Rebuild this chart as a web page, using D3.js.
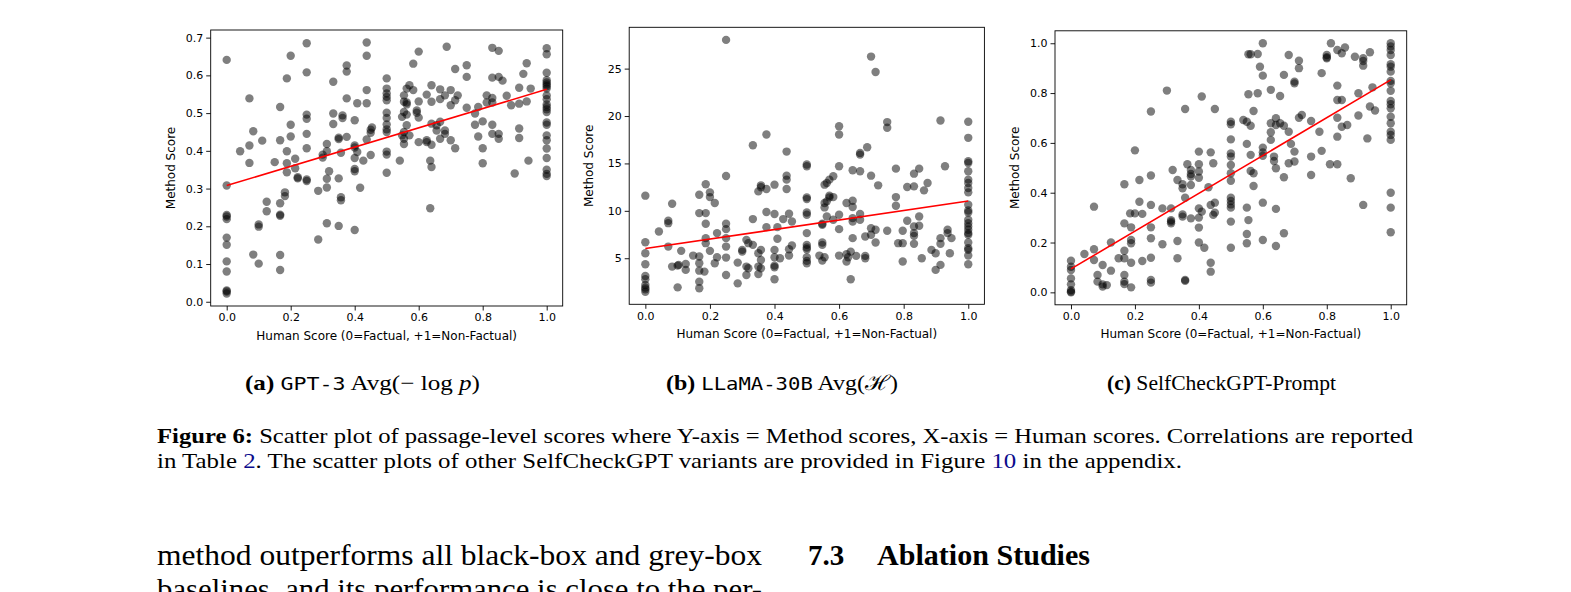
<!DOCTYPE html>
<html>
<head>
<meta charset="utf-8">
<script src="https://cdn.jsdelivr.net/npm/d3@7"></script>
<style>
  body { margin: 0; background: #fff; }
  svg { display: block; }
</style>
</head>
<body>
<svg id="page"></svg>
<script>
// ---- data ----
const xTicks = [0, 0.2, 0.4, 0.6, 0.8, 1.0];
const gpt3Ticks = [0, 0.1, 0.2, 0.3, 0.4, 0.5, 0.6, 0.7];
const llamaTicks = [5, 10, 15, 20, 25];
const promptTicks = [0, 0.2, 0.4, 0.6, 0.8, 1.0];

// fitted line: value at human score 0 and at 1
const gpt3Fit = [0.308, 0.563];
const llamaFit = [6.02, 11.03];
const promptFit = [0.094, 0.853];

const gpt3Points = [
  [0,0.641],[0,0.308],[0,0.230],[0,0.226],[0,0.219],[0,0.170],[0,0.151],[0,0.107],[0,0.080],[0,0.030],[0,0.027],[0,0.022],
  [0.042,0.399],
  [0.071,0.539],[0.071,0.414],[0.071,0.368],
  [0.083,0.452],[0.083,0.125],
  [0.1,0.205],[0.1,0.199],[0.1,0.101],
  [0.111,0.427],
  [0.125,0.265],[0.125,0.240],
  [0.15,0.370],
  [0.167,0.516],[0.167,0.428],[0.167,0.261],[0.167,0.231],[0.167,0.228],[0.167,0.124],[0.167,0.084],
  [0.182,0.280],[0.182,0.290],
  [0.188,0.592],[0.188,0.399],[0.188,0.367],[0.188,0.343],
  [0.2,0.652],[0.2,0.469],[0.2,0.438],
  [0.214,0.379],[0.214,0.354],
  [0.222,0.330],[0.222,0.327],
  [0.25,0.685],[0.25,0.608],[0.25,0.496],[0.25,0.485],[0.25,0.445],[0.25,0.407],[0.25,0.324],[0.25,0.320],
  [0.286,0.294],[0.286,0.165],
  [0.3,0.390],[0.3,0.382],
  [0.313,0.418],[0.313,0.399],[0.313,0.326],[0.313,0.303],[0.313,0.208],
  [0.32,0.346],
  [0.333,0.583],[0.333,0.499],[0.333,0.471],
  [0.35,0.435],[0.35,0.431],[0.35,0.327],[0.35,0.201],
  [0.357,0.395],[0.357,0.277],[0.357,0.269],
  [0.362,0.494],[0.362,0.487],
  [0.375,0.626],[0.375,0.610],[0.375,0.539],[0.375,0.437],
  [0.4,0.481],[0.4,0.414],[0.4,0.409],[0.4,0.381],[0.4,0.352],[0.4,0.346],[0.4,0.190],
  [0.408,0.526],[0.408,0.397],
  [0.417,0.302],
  [0.427,0.374],
  [0.4375,0.687],[0.4375,0.652],[0.4375,0.561],[0.4375,0.526],[0.4375,0.430],
  [0.45,0.456],[0.45,0.448],[0.45,0.389],
  [0.454,0.462],
  [0.5,0.592],[0.5,0.565],[0.5,0.552],[0.5,0.543],[0.5,0.534],[0.5,0.501],[0.5,0.487],[0.5,0.470],[0.5,0.457],[0.5,0.450],[0.5,0.398],[0.5,0.390],[0.5,0.342],
  [0.541,0.374],
  [0.548,0.490],[0.548,0.441],
  [0.554,0.547],[0.554,0.530],[0.554,0.503],[0.554,0.450],[0.554,0.432],[0.554,0.418],
  [0.5625,0.565],[0.5625,0.528],[0.5625,0.523],[0.5625,0.496],[0.5625,0.468],
  [0.571,0.574],[0.571,0.441],
  [0.583,0.631],[0.583,0.561],
  [0.594,0.507],[0.594,0.501],
  [0.6,0.663],[0.6,0.531],[0.6,0.488],[0.6,0.423],
  [0.625,0.549],[0.625,0.428],[0.625,0.423],
  [0.636,0.374],[0.636,0.248],
  [0.64,0.574],[0.64,0.530],[0.64,0.472],[0.64,0.416],[0.64,0.357],
  [0.656,0.468],[0.656,0.454],
  [0.667,0.563],[0.667,0.537],[0.667,0.477],[0.667,0.432],
  [0.682,0.547],[0.682,0.454],[0.682,0.445],
  [0.6875,0.676],
  [0.7,0.561],[0.7,0.521],[0.7,0.428],
  [0.714,0.617],[0.714,0.534],[0.714,0.407],
  [0.722,0.547],
  [0.75,0.627],[0.75,0.596],[0.75,0.514],
  [0.776,0.499],[0.776,0.469],
  [0.786,0.516],[0.786,0.438],
  [0.8,0.478],[0.8,0.407],[0.8,0.367],
  [0.8125,0.547],[0.8125,0.528],
  [0.83,0.673],[0.83,0.594],[0.83,0.540],[0.83,0.528],[0.83,0.469],[0.83,0.445],
  [0.85,0.665],[0.85,0.596],[0.85,0.445],[0.85,0.432],
  [0.862,0.586],
  [0.875,0.546],
  [0.889,0.521],
  [0.9,0.340],
  [0.914,0.567],[0.914,0.525],[0.914,0.459],[0.914,0.434],
  [0.927,0.604],
  [0.9375,0.632],[0.9375,0.531],
  [0.943,0.374],
  [0.95,0.565],
  [1,0.672],[1,0.656],[1,0.607],[1,0.587],[1,0.581],[1,0.576],[1,0.571],[1,0.565],[1,0.547],[1,0.537],[1,0.523],[1,0.516],
  [1,0.510],[1,0.503],[1,0.475],[1,0.469],[1,0.441],[1,0.428],[1,0.406],[1,0.381],[1,0.350],[1,0.339],[1,0.333]
];

const llamaPoints = [
  [0,11.6],[0,6.69],[0,5.53],[0,4.37],[0,3.13],[0,2.78],[0,2.18],[0,1.9],[0,1.72],[0,1.47],
  [0.042,7.82],
  [0.071,8.95],[0.071,8.7],[0.071,6.23],
  [0.083,10.75],[0.083,4.12],
  [0.1,4.22],[0.1,1.93],[0.103,4.3],
  [0.111,5.78],
  [0.125,4.4],[0.125,3.77],
  [0.148,5.28],
  [0.167,11.7],[0.167,9.76],[0.167,5.18],[0.167,4.47],[0.167,3.69],[0.167,2.53],[0.167,1.83],
  [0.183,3.59],
  [0.187,12.8],[0.187,9.76],[0.187,8.63],[0.187,7.12],[0.187,6.59],
  [0.2,11.95],[0.2,11.45],[0.2,5.78],
  [0.215,10.82],[0.215,4.47],
  [0.222,7.65],[0.222,5.1],
  [0.25,28.03],[0.25,13.68],[0.25,8.63],[0.25,8.07],[0.25,7.12],[0.25,6.23],[0.25,5.07],[0.25,3.24],
  [0.286,4.54],[0.286,2.35],
  [0.3,5.88],[0.3,5.7],
  [0.313,6.94],[0.313,4.12],[0.313,3.24],
  [0.319,3.94],[0.319,6.59],
  [0.333,16.92],[0.333,9.13],[0.333,6.41],
  [0.35,12.05],[0.35,5.53],[0.35,4.12],[0.35,3.34],
  [0.358,12.69],[0.358,12.48],[0.358,5.88],[0.358,4.82],[0.358,3.94],
  [0.375,18.05],[0.375,12.3],[0.375,9.87],[0.375,8.28],
  [0.4,12.76],[0.4,9.66],[0.4,5.88],[0.4,5.1],[0.4,4.22],[0.4,4.05],[0.4,2.78],
  [0.409,8.28],[0.409,7.05],
  [0.417,5.0],
  [0.427,9.13],
  [0.4375,16.25],[0.4375,13.71],[0.4375,13.29],[0.4375,12.3],
  [0.445,9.69],[0.445,5.95],[0.445,5.28],
  [0.454,8.88],[0.454,6.34],
  [0.5,14.88],[0.5,14.7],[0.5,11.42],[0.5,11.24],[0.5,9.83],[0.5,9.59],[0.5,7.65],[0.5,6.41],[0.5,6.13],[0.5,5.95],[0.5,5.1],[0.5,4.72],[0.5,4.47],
  [0.539,5.28],
  [0.548,8.63],[0.548,8.53],[0.548,6.66],[0.548,6.41],[0.548,4.75],
  [0.555,12.76],[0.555,10.82],[0.555,10.36],[0.555,5.1],
  [0.562,12.94],[0.562,11.0],[0.562,9.41],
  [0.57,13.29],[0.57,11.6],[0.57,11.42],
  [0.582,13.64],[0.582,11.45],[0.582,9.06],
  [0.6,18.93],[0.6,18.05],[0.6,14.7],[0.6,9.59],[0.6,8.07],[0.6,5.28],
  [0.623,10.82],[0.623,5.42],[0.623,4.65],
  [0.628,5.1],
  [0.636,2.78],[0.636,5.7],
  [0.642,14.28],[0.642,11.07],[0.642,10.4],[0.642,9.23],[0.642,8.88],[0.642,7.12],
  [0.653,5.25],
  [0.665,16.11],[0.665,15.93],[0.665,14.17],[0.665,9.66],[0.665,9.06],
  [0.681,7.3],[0.681,5.25],[0.681,5.0],
  [0.687,16.71],
  [0.699,26.27],[0.699,13.71],[0.699,8.17],[0.699,7.47],
  [0.713,24.65],[0.713,8.0],[0.713,6.66],
  [0.721,12.69],
  [0.749,19.36],[0.749,18.76],[0.749,7.9],
  [0.776,14.45],[0.776,11.45],[0.776,10.54],
  [0.783,6.59],
  [0.797,4.65],[0.797,6.59],[0.797,7.9],
  [0.811,12.51],[0.811,8.95],
  [0.832,13.92],[0.832,12.58],[0.832,8.35],[0.832,7.65],[0.832,7.36],[0.832,6.52],
  [0.848,14.45],[0.848,9.41],[0.848,8.42],
  [0.856,5.0],
  [0.863,12.16],
  [0.874,12.94],
  [0.886,5.88],
  [0.899,3.77],[0.899,5.53],
  [0.914,19.53],[0.914,7.12],[0.914,6.52],[0.914,4.3],
  [0.928,14.7],
  [0.936,8.0],[0.936,7.65],
  [0.943,5.53],
  [0.948,7.12],
  [1,19.39],[1,17.7],[1,15.23],[1,15.05],[1,14.17],[1,13.29],[1,12.94],[1,12.41],[1,11.95],[1,10.64],[1,10.04],[1,9.83],
  [1,9.06],[1,8.7],[1,8.35],[1,8.0],[1,7.65],[1,7.47],[1,6.66],[1,6.06],[1,5.88],[1,5.28],[1,4.37]
];

const promptPoints = [
  [0,0.127],[0,0.103],[0,0.09],[0,0.056],[0,0.032],[0,0.009],[0,0.003],[0,0.0],
  [0.042,0.154],
  [0.072,0.344],[0.072,0.173],[0.072,0.13],
  [0.083,0.07],[0.083,0.043],
  [0.099,0.11],[0.099,0.032],[0.099,0.023],
  [0.112,0.029],
  [0.125,0.2],[0.125,0.087],
  [0.149,0.137],
  [0.167,0.434],[0.167,0.277],[0.167,0.167],[0.167,0.137],[0.167,0.07],[0.167,0.043],[0.167,0.033],
  [0.185,0.317],
  [0.188,0.261],[0.188,0.21],[0.188,0.197],[0.188,0.119],[0.188,0.02],
  [0.2,0.57],[0.2,0.317],
  [0.214,0.451],[0.214,0.364],
  [0.223,0.315],[0.223,0.126],
  [0.25,0.726],[0.25,0.469],[0.25,0.351],[0.25,0.261],[0.25,0.217],[0.25,0.139],[0.25,0.05],[0.25,0.039],
  [0.286,0.337],[0.286,0.193],
  [0.3,0.81],
  [0.313,0.337],[0.313,0.29],[0.313,0.284],[0.313,0.277],
  [0.318,0.491],
  [0.333,0.451],[0.333,0.206],[0.333,0.137],
  [0.349,0.434],[0.349,0.418],[0.349,0.313],[0.349,0.304],
  [0.357,0.736],[0.357,0.38],[0.357,0.05],[0.357,0.046],
  [0.364,0.514],
  [0.375,0.491],[0.375,0.475],[0.375,0.465],[0.375,0.431],[0.375,0.297],
  [0.4,0.565],[0.4,0.514],[0.4,0.485],[0.4,0.46],[0.4,0.337],[0.4,0.3],[0.4,0.26],[0.4,0.2],
  [0.409,0.786],[0.409,0.324],
  [0.417,0.179],
  [0.43,0.422],
  [0.437,0.562],[0.437,0.351],[0.437,0.119],[0.437,0.083],
  [0.445,0.518],[0.445,0.311],
  [0.45,0.736],[0.45,0.36],[0.45,0.32],
  [0.5,0.685],[0.5,0.675],[0.5,0.614],[0.5,0.558],[0.5,0.545],[0.5,0.511],[0.5,0.478],[0.5,0.448],[0.5,0.38],[0.5,0.367],[0.5,0.353],[0.5,0.34],[0.5,0.284],[0.5,0.179],
  [0.539,0.692],
  [0.55,0.685],[0.55,0.596],[0.55,0.34],[0.55,0.234],[0.55,0.197],
  [0.555,0.956],[0.555,0.795],[0.555,0.29],
  [0.562,0.956],[0.562,0.669],[0.562,0.552],[0.562,0.487],
  [0.571,0.728],[0.571,0.478],[0.571,0.427],
  [0.584,0.957],[0.584,0.799],
  [0.591,0.906],
  [0.6,1.0],[0.6,0.87],[0.6,0.581],[0.6,0.562],[0.6,0.548],[0.6,0.36],[0.6,0.21],
  [0.625,0.813],[0.625,0.679],[0.625,0.643],[0.625,0.612],
  [0.635,0.545],[0.635,0.527],
  [0.641,0.699],[0.641,0.672],[0.641,0.498],[0.641,0.335],[0.641,0.186],
  [0.654,0.788],[0.654,0.679],
  [0.666,0.873],[0.666,0.669],[0.666,0.462],[0.666,0.237],
  [0.681,0.953],[0.681,0.645],[0.681,0.518],
  [0.688,0.596],
  [0.699,0.846],[0.699,0.839],[0.699,0.565],[0.699,0.525],
  [0.713,0.93],[0.713,0.9],[0.713,0.701],
  [0.722,0.712],
  [0.751,0.688],[0.751,0.545],[0.751,0.471],
  [0.777,0.645],
  [0.784,0.88],[0.784,0.568],
  [0.8,0.953],[0.8,0.944],[0.8,0.94],
  [0.81,0.514],
  [0.813,1.0],
  [0.833,0.973],[0.833,0.83],[0.833,0.772],[0.833,0.701],[0.833,0.625],[0.833,0.514],
  [0.847,0.96],[0.847,0.772],[0.847,0.665],
  [0.857,0.983],
  [0.864,0.672],
  [0.875,0.458],
  [0.888,0.946],
  [0.899,0.799],[0.899,0.71],
  [0.914,0.94],[0.914,0.929],[0.914,0.91],[0.914,0.351],
  [0.927,0.618],
  [0.935,0.964],[0.935,0.746],
  [0.943,0.823],
  [0.951,0.73],
  [1,1.0],[1,0.987],[1,0.973],[1,0.953],[1,0.916],[1,0.906],[1,0.886],[1,0.849],[1,0.839],[1,0.809],[1,0.768],[1,0.755],
  [1,0.739],[1,0.705],[1,0.679],[1,0.645],[1,0.632],[1,0.612],[1,0.4],[1,0.34],[1,0.241]
];

// ---- layout ----
const width = 1571;
const height = 592;

const panels = [
  { points: gpt3Points, fit: gpt3Fit, yTicks: gpt3Ticks, yFormat: ".1f",
    box: { left: 210.7, right: 562.7, top: 30, bottom: 306 } },
  { points: llamaPoints, fit: llamaFit, yTicks: llamaTicks, yFormat: "d",
    box: { left: 629.2, right: 984.4, top: 27.3, bottom: 304.3 } },
  { points: promptPoints, fit: promptFit, yTicks: promptTicks, yFormat: ".1f",
    box: { left: 1055, right: 1406.7, top: 30.8, bottom: 304.8 } }
];

const svg = d3.select("#page")
  .attr("width", width)
  .attr("height", height)
  .attr("viewBox", `0 0 ${width} ${height}`);

// matplotlib-style 5% margin around the data
function padded(values) {
  const [lo, hi] = d3.extent(values);
  const m = (hi - lo) * 0.05;
  return [lo - m, hi + m];
}

panels.forEach(p => {
  const b = p.box;
  const xScale = d3.scaleLinear()
    .domain(padded(p.points.map(d => d[0])))
    .range([b.left, b.right]);
  const yScale = d3.scaleLinear()
    .domain(padded(p.points.map(d => d[1])))
    .range([b.bottom, b.top]);

  const g = svg.append("g");

  g.append("g")
    .selectAll("circle")
    .data(p.points)
    .enter()
    .append("circle")
    .attr("cx", d => xScale(d[0]))
    .attr("cy", d => yScale(d[1]))
    .attr("r", 4.2)
    .attr("fill", "#000")
    .attr("fill-opacity", 0.5);

  const line = d3.line()
    .x(d => xScale(d[0]))
    .y(d => yScale(d[1]));

  g.append("path")
    .datum([[0, p.fit[0]], [1, p.fit[1]]])
    .attr("d", line)
    .attr("fill", "none")
    .attr("stroke", "#ff0000")
    .attr("stroke-width", 1.6);

  const xAxis = d3.axisBottom(xScale)
    .tickValues(xTicks)
    .tickFormat(d3.format(".1f"))
    .tickSizeOuter(0)
    .tickSize(4.5)
    .tickPadding(3);

  const yAxis = d3.axisLeft(yScale)
    .tickValues(p.yTicks)
    .tickFormat(d3.format(p.yFormat))
    .tickSizeOuter(0)
    .tickSize(4.5)
    .tickPadding(3);

  const gx = g.append("g")
    .attr("transform", `translate(0, ${b.bottom})`)
    .call(xAxis);
  const gy = g.append("g")
    .attr("transform", `translate(${b.left}, 0)`)
    .call(yAxis);

  [gx, gy].forEach(ax => {
    ax.select(".domain").remove();
    ax.selectAll("line").attr("stroke", "#000").attr("stroke-width", 0.9);
    ax.selectAll("text")
      .attr("fill", "#000")
      .style("font-family", "DejaVu Sans")
      .style("font-size", "11px");
  });

  g.append("rect")
    .attr("x", b.left)
    .attr("y", b.top)
    .attr("width", b.right - b.left)
    .attr("height", b.bottom - b.top)
    .attr("fill", "none")
    .attr("stroke", "#000")
    .attr("stroke-width", 0.9);

  g.append("text")
    .attr("x", (b.left + b.right) / 2)
    .attr("y", b.bottom + 33.5)
    .attr("text-anchor", "middle")
    .style("font-family", "DejaVu Sans")
    .style("font-size", "12px")
    .text("Human Score (0=Factual, +1=Non-Factual)");

  g.append("text")
    .attr("transform", `translate(${b.left - 36}, ${(b.top + b.bottom) / 2}) rotate(-90)`)
    .attr("text-anchor", "middle")
    .style("font-family", "DejaVu Sans")
    .style("font-size", "12px")
    .text("Method Score");
});

// ---- captions and body text ----
const serif = "Liberation Serif, Times New Roman, serif";
const mono = "DejaVu Sans Mono, monospace";

function richText(x, y, size, width, parts) {
  const t = svg.append("text")
    .attr("x", x)
    .attr("y", y)
    .style("font-family", serif)
    .style("font-size", size + "px")
    .attr("fill", "#000");
  if (width) {
    t.attr("textLength", width).attr("lengthAdjust", "spacingAndGlyphs");
  }
  parts.forEach(pt => {
    const s = t.append("tspan").text(pt.t);
    if (pt.b) s.style("font-weight", "bold");
    if (pt.i) s.style("font-style", "italic");
    if (pt.m) s.style("font-family", mono).style("font-size", (size * 0.86) + "px");
    if (pt.c) s.attr("fill", pt.c);
  });
  return t;
}

const linkBlue = "#0b0b8c";

richText(245, 389.5, 21, 235, [
  { t: "(a)", b: true }, { t: " " }, { t: "GPT-3", m: true },
  { t: " Avg(\u2212 log " }, { t: "p", i: true }, { t: ")" }
]);
richText(666, 389.5, 21, 232, [
  { t: "(b)", b: true }, { t: " " }, { t: "LLaMA-30B", m: true },
  { t: " Avg(" }, { t: "\u210B" }, { t: ")" }
]);
richText(1107, 389.5, 21, 229, [
  { t: "(c)", b: true }, { t: " SelfCheckGPT-Prompt" }
]);

richText(157, 442.5, 21, 1256, [
  { t: "Figure 6:", b: true },
  { t: " Scatter plot of passage-level scores where Y-axis = Method scores, X-axis = Human scores. Correlations are reported" }
]);
richText(157, 467.5, 21, 1025, [
  { t: "in Table " }, { t: "2", c: linkBlue },
  { t: ". The scatter plots of other SelfCheckGPT variants are provided in Figure " },
  { t: "10", c: linkBlue }, { t: " in the appendix." }
]);

richText(157, 565, 29, 605, [
  { t: "method outperforms all black-box and grey-box" }
]);
richText(157, 599, 29, 605, [
  { t: "baselines, and its performance is close to the per-" }
]);
richText(808, 565, 29, null, [{ t: "7.3", b: true }]);
richText(877, 565, 29, 213, [{ t: "Ablation Studies", b: true }]);
</script>
</body>
</html>
